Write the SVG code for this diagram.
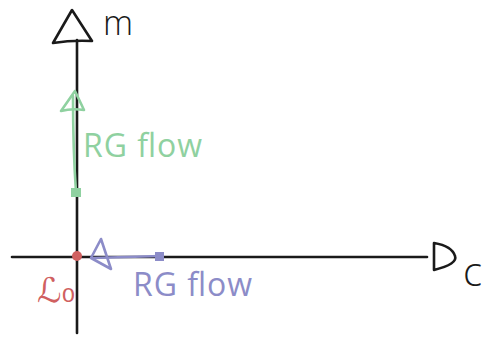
<svg xmlns="http://www.w3.org/2000/svg" width="492" height="338" viewBox="0 0 492 338">
<style>
.ink{fill:none;stroke:#1a1a1a;stroke-width:2.6;stroke-linecap:round;stroke-linejoin:round}
.g{fill:none;stroke:#8fd1a0;stroke-width:2.6;stroke-linecap:round;stroke-linejoin:round}
.b{fill:none;stroke:#8c8cc8;stroke-width:2.6;stroke-linecap:round;stroke-linejoin:round}
.lbl{font-family:"Open Sans","Noto Sans",sans-serif;font-size:32px}
.hand{font-family:"Open Sans","DejaVu Sans",sans-serif;font-weight:300;fill:#1a1a1a}
</style>
<rect width="492" height="338" fill="#fff"/>
<g id="axes">
<g id="m-axis">
<path class="ink" d="M77 333 L77 40"/>
<path class="ink" d="M72 10 L53 43 Q72 40 92 41 Z"/>
<text class="hand" x="103" y="35" font-size="34" textLength="34">m</text>
</g>
<g id="c-axis">
<path class="ink" d="M12 257 L427 257"/>
<path class="ink" d="M434 243 L434 270 Q458 264 455 256 Q452 246 434 243"/>
<text class="hand" x="463" y="286" font-size="40">c</text>
</g>
</g>
<g id="origin">
<circle cx="77" cy="256" r="5" fill="#d06060"/>
<text x="37" y="302" font-family="DejaVu Sans,sans-serif" font-size="34" fill="#d06060">ℒ₀</text>
</g>
<g id="connectors">
<g id="green-flow">
<rect x="71" y="188" width="10" height="9" fill="#8fd1a0"/>
<path class="g" d="M76 192 Q73 150 73 96"/>
<path class="g" d="M75 91 L61 111 Q72 108 84 110 Z"/>
</g>
<g id="blue-flow">
<rect x="155" y="252" width="9" height="9" fill="#8c8cc8"/>
<path class="b" d="M160 256 Q130 257 93 258"/>
<path class="b" d="M91 258 L101 239 L111 269 Z"/>
</g>
</g>
<text class="lbl" x="83" y="157" fill="#8fd1a0" textLength="119">RG flow</text>
<text class="lbl" x="133" y="296" fill="#8c8cc8" textLength="119">RG flow</text>
</svg>
